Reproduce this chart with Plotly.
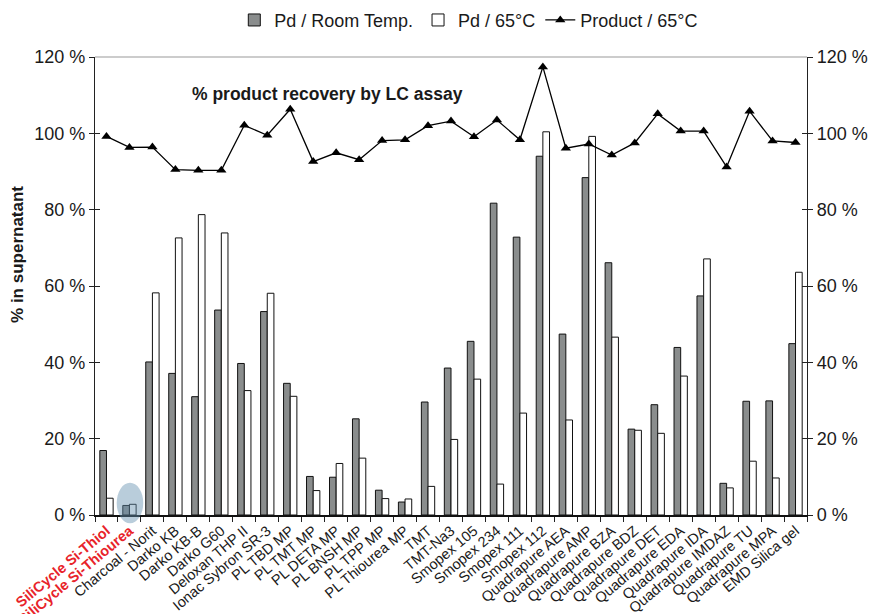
import plotly.graph_objects as go

categories = [
    "SiliCycle Si-Thiol", "SiliCycle Si-Thiourea", "Charcoal - Norit", "Darko KB", "Darko KB-B",
    "Darko G60", "Deloxan THP II", "Ionac Sybron SR-3", "PL TBD MP", "PL TMT MP",
    "PL DETA MP", "PL BNSH MP", "PL TPP MP", "PL Thiourea MP", "TMT",
    "TMT-Na3", "Smopex 105", "Smopex 234", "Smopex 111", "Smopex 112",
    "Quadrapure AEA", "Quadrapure AMP", "Quadrapure BZA", "Quadrapure BDZ", "Quadrapure DET",
    "Quadrapure EDA", "Quadrapure IDA", "Quadrapure IMDAZ", "Quadrapure TU", "Quadrapure MPA",
    "EMD Silica gel",
]
highlighted = ["SiliCycle Si-Thiol", "SiliCycle Si-Thiourea"]

pd_room_temp = [16.9, 2.5, 40.1, 37.1, 31.0, 53.7, 39.7, 53.3, 34.5, 10.1,
                9.9, 25.2, 6.5, 3.4, 29.6, 38.5, 45.5, 81.7, 72.8, 94.0,
                47.4, 88.4, 66.1, 22.5, 28.9, 43.9, 57.4, 8.3, 29.8, 29.9,
                44.9]
pd_65c = [4.4, 2.8, 58.2, 72.6, 78.7, 73.9, 32.6, 58.1, 31.1, 6.4,
          13.5, 14.9, 4.3, 4.2, 7.5, 19.8, 35.6, 8.1, 26.7, 100.4,
          24.9, 99.2, 46.6, 22.2, 21.4, 36.4, 67.1, 7.1, 14.1, 9.7,
          63.6]
product_65c = [99.2, 96.3, 96.4, 90.5, 90.3, 90.3, 102.1, 99.5, 106.3, 92.6,
               94.9, 93.1, 98.1, 98.3, 102.0, 103.2, 99.1, 103.5, 98.3, 117.4,
               96.1, 97.2, 94.3, 97.5, 105.1, 100.6, 100.6, 91.2, 105.8, 98.0,
               97.6]
y_ticks = [0, 20, 40, 60, 80, 100, 120]

FONT = "Liberation Sans, Arial, sans-serif"
RED = "#e8232a"

ticktext = [
    f"<b><span style='color:{RED}'>{c}</span></b>" if c in highlighted else c
    for c in categories
]

fig = go.Figure()
fig.add_trace(go.Bar(
    x=categories, y=pd_room_temp, name="Pd / Room Temp.",
    marker=dict(color="#8a8d8d", line=dict(color="#111111", width=1)),
))
fig.add_trace(go.Bar(
    x=categories, y=pd_65c, name="Pd / 65°C",
    marker=dict(color="#ffffff", line=dict(color="#111111", width=1)),
))
fig.add_trace(go.Scatter(
    x=categories, y=product_65c, name="Product / 65°C", yaxis="y2",
    mode="lines+markers",
    line=dict(color="#000000", width=1.3),
    marker=dict(symbol="triangle-up", size=9, color="#000000"),
))

tick_common = dict(
    range=[0, 120], tickvals=y_ticks, ticktext=[f"{v} %" for v in y_ticks],
    tickfont=dict(family=FONT, size=18, color="#1a1a1a"),
    showgrid=False, zeroline=False, showline=True, linecolor="#222222", linewidth=1.3,
    ticks="outside", ticklen=5, tickcolor="#222222", tickwidth=1.2, automargin=False,
)

fig.update_layout(
    width=872, height=614,
    margin=dict(l=95, r=65, t=57, b=99, autoexpand=False),
    paper_bgcolor="white", plot_bgcolor="white",
    barmode="group", bargap=0.42, bargroupgap=0.0,
    font=dict(family=FONT, color="#1a1a1a"),
    showlegend=True,
    legend=dict(orientation="h", x=0.525, xanchor="center",
                yref="container", y=0.967, yanchor="middle",
                font=dict(family=FONT, size=18, color="#1a1a1a"),
                traceorder="normal"),
    xaxis=dict(
        type="category", range=[-0.5, len(categories) - 0.5],
        tickmode="array", tickvals=categories, ticktext=ticktext,
        tickangle=-40, tickfont=dict(family=FONT, size=14.5, color="#1a1a1a"),
        tickson="boundaries", ticks="outside", ticklen=5, tickcolor="#222222",
        showline=True, linecolor="#111111", linewidth=1.5, showgrid=False,
        automargin=False,
    ),
    yaxis=dict(side="left", **tick_common),
    yaxis2=dict(side="right", overlaying="y", **tick_common),
    yaxis3=dict(side="left", overlaying="y", range=[0, 120], tickvals=y_ticks,
                showticklabels=False, ticks="inside", ticklen=5, tickcolor="#222222",
                tickwidth=1.2, showgrid=False, zeroline=False, showline=False),
    yaxis4=dict(side="right", overlaying="y", range=[0, 120], tickvals=y_ticks,
                showticklabels=False, ticks="inside", ticklen=5, tickcolor="#222222",
                tickwidth=1.2, showgrid=False, zeroline=False, showline=False),
)

# invisible traces to activate the tick-only axes
fig.add_trace(go.Scatter(x=[categories[0]], y=[None], yaxis="y3", showlegend=False,
                         hoverinfo="skip", mode="markers"))
fig.add_trace(go.Scatter(x=[categories[0]], y=[None], yaxis="y4", showlegend=False,
                         hoverinfo="skip", mode="markers"))

# top frame line (grey)
fig.add_shape(type="line", xref="paper", yref="paper", x0=0, x1=1, y0=1, y1=1,
              line=dict(color="#9a9a9a", width=1.2))

# highlight ellipse around SiliCycle Si-Thiourea
fig.add_shape(type="circle", xref="paper", yref="paper",
              x0=0.0305, x1=0.0678, y0=-0.018, y1=0.0705,
              fillcolor="rgba(100,145,175,0.45)", line=dict(width=0), layer="above")

fig.add_annotation(text="<b>% product recovery by LC assay</b>", xref="paper", yref="y",
                   x=0.326, y=110.3, showarrow=False, xanchor="center", yanchor="middle",
                   font=dict(family=FONT, size=17.5, color="#1a1a1a"))
fig.add_annotation(text="<b>% in supernatant</b>", xref="paper", yref="paper",
                   x=-0.108, y=0.568, showarrow=False, textangle=-90,
                   xanchor="center", yanchor="middle",
                   font=dict(family=FONT, size=17, color="#1a1a1a"))

fig.write_html(
    "out.html",
    config={"displayModeBar": False},
    post_script="document.body.style.margin='0';document.body.style.overflow='hidden';",
)
